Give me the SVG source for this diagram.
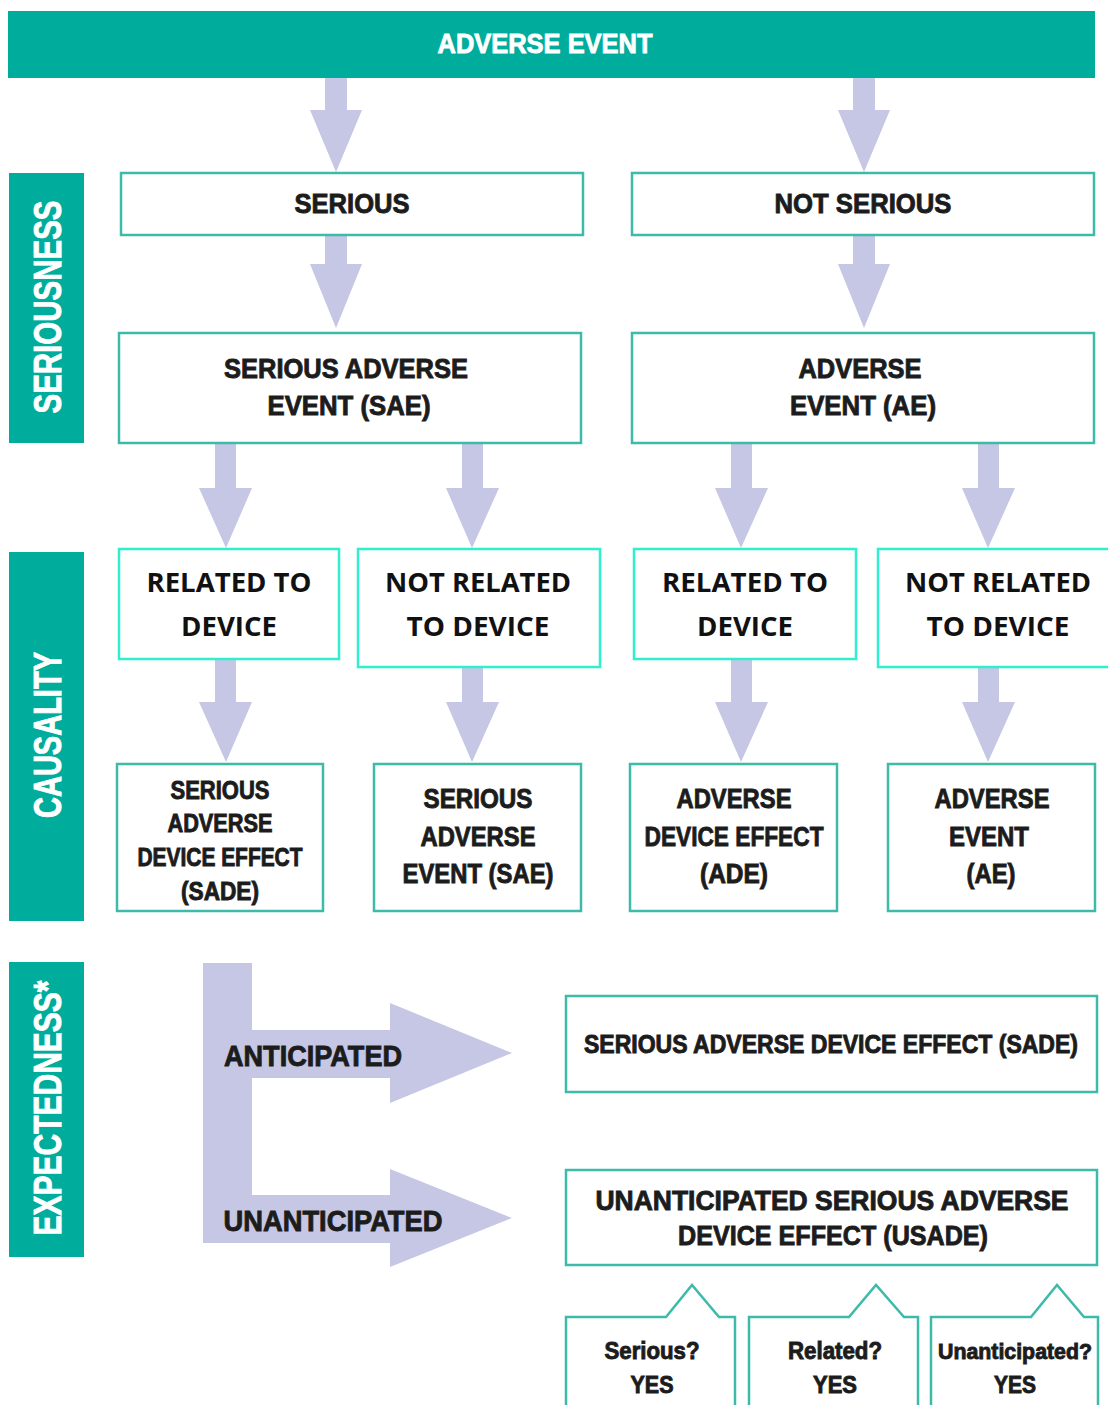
<svg xmlns="http://www.w3.org/2000/svg" width="1108" height="1405" viewBox="0 0 1108 1405">
<style>
.band{fill:#00AD9C}
.arr{fill:#C5C7E4}
.box{fill:#fff;stroke:#3DBAA9;stroke-width:2.5}
.cbox{fill:#fff;stroke:#2EF0CF;stroke-width:2.5}
.c{font-family:"Liberation Sans",Arial,sans-serif;font-weight:bold;fill:#1c1c1c;stroke:#1c1c1c;stroke-width:0.9;text-anchor:middle}
.o{font-family:"Open Sans","Liberation Sans",sans-serif;font-weight:bold;fill:#111;text-anchor:middle}
.w{fill:#fff;stroke:#fff}
</style>
<rect width="1108" height="1405" fill="#fff"/>

<g id="header">
<rect class="band" x="8" y="11" width="1087" height="67"/>
<text class="c w" x="545" y="53" font-size="28" textLength="215" lengthAdjust="spacingAndGlyphs">ADVERSE EVENT</text>
</g>

<g id="side-seriousness">
<rect class="band" x="9" y="173" width="75" height="270"/>
<text class="c w" transform="translate(47,307) rotate(-90)" x="0" y="14" font-size="38" textLength="213" lengthAdjust="spacingAndGlyphs">SERIOUSNESS</text>
</g>
<g id="side-causality">
<rect class="band" x="9" y="552" width="75" height="369"/>
<text class="c w" transform="translate(47,735) rotate(-90)" x="0" y="14" font-size="38" textLength="166" lengthAdjust="spacingAndGlyphs">CAUSALITY</text>
</g>
<g id="side-expectedness">
<rect class="band" x="9" y="962" width="75" height="295"/>
<text class="c w" transform="translate(47,1108) rotate(-90)" x="0" y="14" font-size="38" textLength="255" lengthAdjust="spacingAndGlyphs">EXPECTEDNESS*</text>
</g>

<g id="connectors">
<polygon class="arr" points="325,78 347,78 347,110 362,110 336,172 310,110 325,110"/>
<polygon class="arr" points="853,78 875,78 875,110 890,110 864,172 838,110 853,110"/>
<polygon class="arr" points="325,235 347,235 347,264 362,264 336,328 310,264 325,264"/>
<polygon class="arr" points="853,235 875,235 875,264 890,264 864,328 838,264 853,264"/>
<polygon class="arr" points="215,443 236,443 236,488 252,488 226,548 199,488 215,488"/>
<polygon class="arr" points="462,443 483,443 483,488 499,488 472,548 446,488 462,488"/>
<polygon class="arr" points="731,443 752,443 752,488 768,488 741,548 715,488 731,488"/>
<polygon class="arr" points="978,443 999,443 999,488 1015,488 988,548 962,488 978,488"/>
<polygon class="arr" points="215,659 236,659 236,702 252,702 226,762 199,702 215,702"/>
<polygon class="arr" points="462,667 483,667 483,702 499,702 472,762 446,702 462,702"/>
<polygon class="arr" points="731,659 752,659 752,702 768,702 741,762 715,702 731,702"/>
<polygon class="arr" points="978,667 999,667 999,702 1015,702 988,762 962,702 978,702"/>
<path class="arr" d="M203,963 H252 V1030 H390 V1003 L512,1053 L390,1103 V1078 H252 V1195 H390 V1169 L512,1218 L390,1267 V1243 H203 Z"/>
<text class="c" x="313" y="1066" font-size="30" textLength="178" lengthAdjust="spacingAndGlyphs">ANTICIPATED</text>
<text class="c" x="333" y="1231" font-size="30" textLength="219" lengthAdjust="spacingAndGlyphs">UNANTICIPATED</text>
</g>

<g id="serious">
<rect class="box" x="121" y="173" width="462" height="62"/>
<text class="c" x="352" y="213" font-size="28" textLength="115" lengthAdjust="spacingAndGlyphs">SERIOUS</text>
</g>
<g id="not-serious">
<rect class="box" x="632" y="173" width="462" height="62"/>
<text class="c" x="863" y="213" font-size="28" textLength="177" lengthAdjust="spacingAndGlyphs">NOT SERIOUS</text>
</g>
<g id="sae-top">
<rect class="box" x="119" y="333" width="462" height="110"/>
<text class="c" x="346" y="378" font-size="28" textLength="244" lengthAdjust="spacingAndGlyphs">SERIOUS ADVERSE</text>
<text class="c" x="349" y="415" font-size="28" textLength="163" lengthAdjust="spacingAndGlyphs">EVENT (SAE)</text>
</g>
<g id="ae-top">
<rect class="box" x="632" y="333" width="462" height="110"/>
<text class="c" x="860" y="378" font-size="28" textLength="123" lengthAdjust="spacingAndGlyphs">ADVERSE</text>
<text class="c" x="863" y="415" font-size="28" textLength="146" lengthAdjust="spacingAndGlyphs">EVENT (AE)</text>
</g>

<g id="related-1">
<rect class="cbox" x="119" y="549" width="220" height="110"/>
<text class="o" x="229" y="592" font-size="27" textLength="165" lengthAdjust="spacingAndGlyphs">RELATED TO</text>
<text class="o" x="229" y="636" font-size="27" textLength="96" lengthAdjust="spacingAndGlyphs">DEVICE</text>
</g>
<g id="not-related-1">
<rect class="cbox" x="358" y="549" width="242" height="118"/>
<text class="o" x="478" y="592" font-size="27" textLength="186" lengthAdjust="spacingAndGlyphs">NOT RELATED</text>
<text class="o" x="478" y="636" font-size="27" textLength="143" lengthAdjust="spacingAndGlyphs">TO DEVICE</text>
</g>
<g id="related-2">
<rect class="cbox" x="634" y="549" width="222" height="110"/>
<text class="o" x="745" y="592" font-size="27" textLength="166" lengthAdjust="spacingAndGlyphs">RELATED TO</text>
<text class="o" x="745" y="636" font-size="27" textLength="96" lengthAdjust="spacingAndGlyphs">DEVICE</text>
</g>
<g id="not-related-2">
<rect class="cbox" x="878" y="549" width="240" height="118"/>
<text class="o" x="998" y="592" font-size="27" textLength="186" lengthAdjust="spacingAndGlyphs">NOT RELATED</text>
<text class="o" x="998" y="636" font-size="27" textLength="143" lengthAdjust="spacingAndGlyphs">TO DEVICE</text>
</g>

<g id="sade">
<rect class="box" x="117" y="764" width="206" height="147"/>
<text class="c" x="220" y="799" font-size="25" textLength="99" lengthAdjust="spacingAndGlyphs">SERIOUS</text>
<text class="c" x="220" y="832" font-size="25" textLength="105" lengthAdjust="spacingAndGlyphs">ADVERSE</text>
<text class="c" x="220" y="866" font-size="25" textLength="165" lengthAdjust="spacingAndGlyphs">DEVICE EFFECT</text>
<text class="c" x="220" y="900" font-size="25" textLength="78" lengthAdjust="spacingAndGlyphs">(SADE)</text>
</g>
<g id="sae-bottom">
<rect class="box" x="374" y="764" width="207" height="147"/>
<text class="c" x="478" y="808" font-size="28" textLength="109" lengthAdjust="spacingAndGlyphs">SERIOUS</text>
<text class="c" x="478" y="846" font-size="28" textLength="115" lengthAdjust="spacingAndGlyphs">ADVERSE</text>
<text class="c" x="478" y="883" font-size="28" textLength="151" lengthAdjust="spacingAndGlyphs">EVENT (SAE)</text>
</g>
<g id="ade">
<rect class="box" x="630" y="764" width="207" height="147"/>
<text class="c" x="734" y="808" font-size="28" textLength="115" lengthAdjust="spacingAndGlyphs">ADVERSE</text>
<text class="c" x="734" y="846" font-size="28" textLength="179" lengthAdjust="spacingAndGlyphs">DEVICE EFFECT</text>
<text class="c" x="734" y="883" font-size="28" textLength="68" lengthAdjust="spacingAndGlyphs">(ADE)</text>
</g>
<g id="ae-bottom">
<rect class="box" x="888" y="764" width="207" height="147"/>
<text class="c" x="992" y="808" font-size="28" textLength="115" lengthAdjust="spacingAndGlyphs">ADVERSE</text>
<text class="c" x="989" y="846" font-size="28" textLength="80" lengthAdjust="spacingAndGlyphs">EVENT</text>
<text class="c" x="991" y="883" font-size="28" textLength="49" lengthAdjust="spacingAndGlyphs">(AE)</text>
</g>

<g id="sade-result">
<rect class="box" x="566" y="996" width="531" height="96"/>
<text class="c" x="831" y="1053" font-size="25" textLength="494" lengthAdjust="spacingAndGlyphs">SERIOUS ADVERSE DEVICE EFFECT (SADE)</text>
</g>
<g id="usade-result">
<rect class="box" x="566" y="1170" width="531" height="95"/>
<text class="c" x="832" y="1210" font-size="28" textLength="473" lengthAdjust="spacingAndGlyphs">UNANTICIPATED SERIOUS ADVERSE</text>
<text class="c" x="833" y="1245" font-size="28" textLength="310" lengthAdjust="spacingAndGlyphs">DEVICE EFFECT (USADE)</text>
</g>

<g id="callout-serious">
<path class="box" d="M566,1410 V1317 H666 L692,1285 L719,1317 H735 V1410"/>
<text class="c" x="652" y="1359" font-size="24" textLength="95" lengthAdjust="spacingAndGlyphs">Serious?</text>
<text class="c" x="652" y="1393" font-size="24" textLength="43" lengthAdjust="spacingAndGlyphs">YES</text>
</g>
<g id="callout-related">
<path class="box" d="M749,1410 V1317 H849 L876,1285 L904,1317 H918 V1410"/>
<text class="c" x="835" y="1359" font-size="24" textLength="94" lengthAdjust="spacingAndGlyphs">Related?</text>
<text class="c" x="835" y="1393" font-size="24" textLength="44" lengthAdjust="spacingAndGlyphs">YES</text>
</g>
<g id="callout-unanticipated">
<path class="box" d="M931,1410 V1317 H1031 L1057,1285 L1084,1317 H1098 V1410"/>
<text class="c" x="1015" y="1359" font-size="22" textLength="154" lengthAdjust="spacingAndGlyphs">Unanticipated?</text>
<text class="c" x="1015" y="1393" font-size="24" textLength="42" lengthAdjust="spacingAndGlyphs">YES</text>
</g>
</svg>
